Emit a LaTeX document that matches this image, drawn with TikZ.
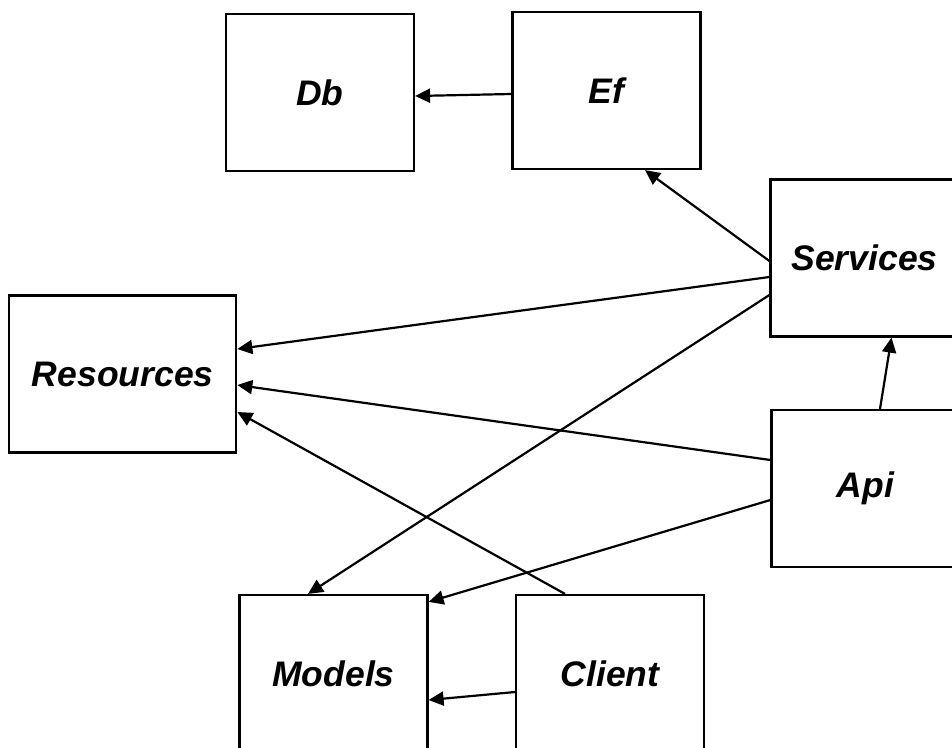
\documentclass[tikz,border=0pt]{standalone}
\usepackage{fontspec}
\setmainfont{Liberation Sans}
\usetikzlibrary{arrows.meta}
\tikzset{
  pkg/.style={draw, line width=2.2pt, minimum width=188pt, minimum height=157pt,
    inner sep=0pt, font=\fontsize{35.5}{42}\selectfont\bfseries\itshape},
  dep/.style={line width=2.2pt, -{Triangle[length=15pt,width=14pt]}}
}
\begin{document}
\begin{tikzpicture}[x=1pt,y=-1pt]
            \useasboundingbox (0,0) rectangle (952,747);
            \clip (0,0) rectangle (952,747);
            \node[pkg] (db) at (320,92.5) {Db};
            \node[pkg] (ef) at (606.5,90.5) {Ef};
            \node[pkg] (svc) at (864.5,258) {Services};
            \node[pkg] (api) at (865.5,488.5) {Api};
            \node[pkg, minimum width=227pt] (res) at (122.75,374) {Resources};
            \node[pkg] (mdl) at (333.5,673.5) {Models};
            \node[pkg] (cli) at (610,673.5) {Client};
            \draw[dep] ([yshift=-3.5pt]ef.west) -- ([yshift=-3.5pt]db.east);
            \draw[dep] ([yshift=-3pt]svc.west) -- ([xshift=38.5pt]ef.south);
            \draw[dep] ([yshift=-19pt]svc.west) -- ([yshift=25pt]res.east);
            \draw[dep] ([yshift=-37pt]svc.west) -- ([xshift=-25.5pt]mdl.north);
            \draw[dep] ([yshift=28.5pt]api.west) -- ([yshift=-11pt]res.east);
            \draw[dep] ([yshift=-11.5pt]api.west) -- ([yshift=-8pt]mdl.north east);
            \draw[dep] ([xshift=14.5pt]api.north) -- ([xshift=27pt]svc.south);
            \draw[dep] ([xshift=-45pt]cli.north) -- ([yshift=-38pt]res.east);
            \draw[dep] ([yshift=-18.5pt]cli.west) -- ([yshift=-26.5pt]mdl.east);
        \end{tikzpicture}
\end{document}
